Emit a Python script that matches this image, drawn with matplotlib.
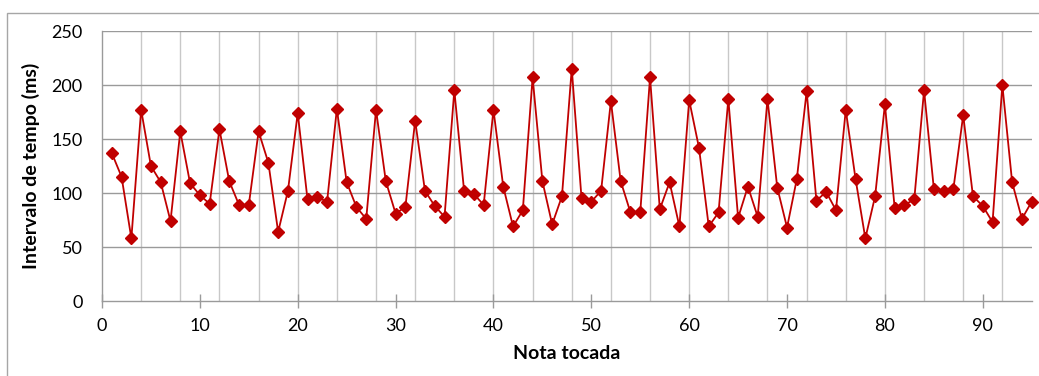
import matplotlib.pyplot as plt
from matplotlib.patches import Rectangle
import numpy as np

plt.rcParams['font.family'] = ['Lato', 'DejaVu Sans']

# intervalo entre notas consecutivas (ms)
nota = np.arange(1, 96)
intervalo = [137, 115, 58, 177, 125, 110, 74, 157, 109, 98,
             90, 159, 111, 89, 89, 157, 128, 64, 102, 174,
             94, 96, 92, 178, 110, 87, 76, 177, 111, 81,
             87, 167, 102, 88, 78, 195, 102, 99, 89, 177,
             106, 69, 84, 207, 111, 71, 97, 215, 95, 92,
             102, 185, 111, 82, 82, 207, 85, 110, 69, 186,
             142, 69, 82, 187, 77, 106, 78, 187, 105, 68,
             113, 194, 93, 101, 84, 177, 113, 58, 97, 182,
             86, 89, 94, 195, 104, 102, 104, 172, 97, 88,
             73, 200, 110, 76, 92]

xticks = np.arange(0, 91, 10)
yticks = np.arange(0, 251, 50)

fig = plt.figure(figsize=(10.39, 3.76), dpi=100)

# moldura do gráfico
fig.patches.append(Rectangle((7 / 1039, -0.1), 1.2, (376 - 13) / 376 + 0.1,
                             transform=fig.transFigure, fill=False,
                             edgecolor='#a6a6a6', linewidth=1.0))

ax = fig.add_axes([102 / 1039, 75 / 376, 929.7 / 1039, 270 / 376])

ax.plot(nota, intervalo, color='#c00000', linewidth=1.3, marker='D',
        markersize=6, markerfacecolor='#c00000', markeredgecolor='#c00000',
        clip_on=False, zorder=3)

ax.set_xlim(0, 95)
ax.set_ylim(0, 250)
ax.set_xticks(xticks)
ax.set_yticks(yticks)

# grelha vertical a cada 4 notas, horizontal a cada 50 ms
for gx in range(4, 95, 4):
    ax.axvline(gx, color='#c8c8c8', linewidth=1.0, zorder=1)
for gy in yticks[1:]:
    ax.axhline(gy, color='#9a9a9a', linewidth=1.0, zorder=1)

ax.tick_params(axis='x', direction='inout', length=10, width=1.0,
               color='#9a9a9a', labelsize=13, pad=7)
ax.tick_params(axis='y', length=0, labelsize=13, pad=14)

for side in ['top', 'right']:
    ax.spines[side].set_visible(False)
for side in ['left', 'bottom']:
    ax.spines[side].set_color('#9a9a9a')
    ax.spines[side].set_linewidth(1.0)

ax.set_xlabel('Nota tocada', fontsize=14, fontweight='bold', labelpad=8)
ax.set_ylabel('Intervalo de tempo (ms)', fontsize=14, fontweight='bold',
              labelpad=8)

plt.savefig('out.png', dpi=100, facecolor='white')
